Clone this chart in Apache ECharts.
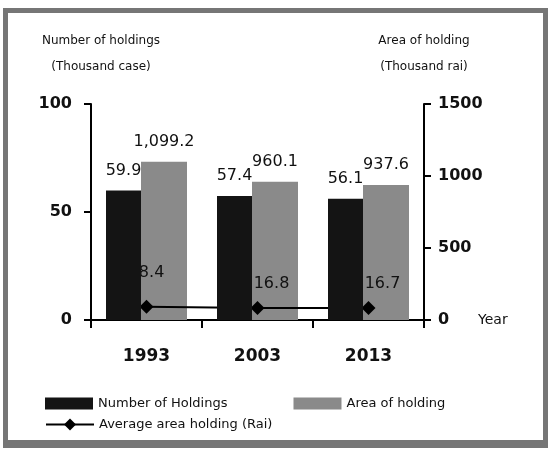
<!DOCTYPE html>
<html>
<head>
<meta charset="utf-8">
<script src="https://cdn.jsdelivr.net/npm/echarts@6/dist/echarts.min.js"></script>
<style>
  html, body { margin: 0; padding: 0; background: #fff; }
  #frame {
    position: absolute; left: 3px; top: 8px;
    width: 535px; height: 427px;
    border: 5px solid #767676;
    border-bottom-width: 8px;
  }
  #chart { position: absolute; left: 0; top: 0; width: 551px; height: 451px; }
</style>
</head>
<body>
<div id="frame"></div>
<div id="chart"></div>
<script>
  // values
  const years = ["1993", "2003", "2013"];
  const holdings = [59.9, 57.4, 56.1];        // thousand case
  const areaHolding = [1099.2, 960.1, 937.6]; // thousand rai
  const avgArea = [18.4, 16.8, 16.7];         // rai

  const font = "DejaVu Sans";
  const chart = echarts.init(document.getElementById("chart"));

  const option = {
    animation: false,
    textStyle: { fontFamily: font, color: "#111" },
    grid: { left: 91, right: 127, top: 104, bottom: 131 },
    legend: [
      {
        data: [
          { name: "Number of Holdings", icon: "rect" },
          { name: "Area of holding", icon: "rect" },
        ],
        left: 40, top: 392,
        itemWidth: 48, itemHeight: 12, itemGap: 66,
        textStyle: { fontFamily: font, fontSize: 13, color: "#111" },
      },
      {
        data: ["Average area holding (Rai)"],
        left: 40, top: 413,
        itemWidth: 48, itemHeight: 15,
        textStyle: { fontFamily: font, fontSize: 13, color: "#111" },
      },
    ],
    xAxis: {
      type: "category",
      data: years,
      name: "Year",
      nameLocation: "end",
      nameGap: 54,
      nameTextStyle: { fontFamily: font, fontSize: 14, color: "#111" },
      axisLine: { lineStyle: { color: "#000", width: 2 } },
      axisTick: { show: true, length: 8, lineStyle: { color: "#000", width: 2 } },
      axisLabel: { fontFamily: font, fontSize: 17, fontWeight: "bold", color: "#111", margin: 28 },
    },
    yAxis: [
      {
        type: "value", min: 0, max: 100, interval: 50,
        name: "Number of holdings\n(Thousand case)",
        nameLocation: "end", nameGap: 24,
        nameTextStyle: { fontFamily: font, fontSize: 12, color: "#111", align: "center", lineHeight: 26, padding: [0, 0, 0, 20] },
        axisLine: { show: true, lineStyle: { color: "#000", width: 2 } },
        axisTick: { show: true, length: 7, lineStyle: { color: "#000", width: 2 } },
        axisLabel: { fontFamily: font, fontSize: 16, fontWeight: "bold", color: "#111", margin: 19 },
        splitLine: { show: false },
      },
      {
        type: "value", min: 0, max: 1500, interval: 500,
        name: "Area of holding\n(Thousand rai)",
        nameLocation: "end", nameGap: 24,
        nameTextStyle: { fontFamily: font, fontSize: 12, color: "#111", align: "center", lineHeight: 26 },
        position: "right",
        axisLine: { show: true, lineStyle: { color: "#000", width: 2 } },
        axisTick: { show: true, length: 7, lineStyle: { color: "#000", width: 2 } },
        axisLabel: {
          fontFamily: font, fontSize: 16, fontWeight: "bold", color: "#111", margin: 14, align: "left",
          formatter: (v) => String(v),
        },
        splitLine: { show: false },
      },
      {
        // hidden scale for the average-area line
        type: "value", min: 0, max: 300, show: false,
      },
    ],
    series: [
      {
        name: "Number of Holdings",
        type: "bar",
        yAxisIndex: 0,
        data: holdings,
        barWidth: 35,
        barGap: "0%",
        z: 4,
        itemStyle: { color: "#141414" },
        label: { show: true, position: "top", distance: 12, fontFamily: font, fontSize: 16, color: "#111" },
      },
      {
        name: "Area of holding",
        type: "bar",
        yAxisIndex: 1,
        data: areaHolding,
        barWidth: 46,
        barGap: "0%",
        z: 2,
        itemStyle: { color: "#8a8a8a" },
        label: {
          show: true, position: "top", distance: 12, fontFamily: font, fontSize: 16, color: "#111",
          formatter: (p) => p.value.toLocaleString("en-US", { minimumFractionDigits: 1 }),
        },
      },
      {
        name: "Average area holding (Rai)",
        type: "line",
        yAxisIndex: 2,
        data: avgArea.map((v, i) => ({ value: v, label: { offset: i === 0 ? [0, -14] : [14, -4] } })),
        z: 3,
        symbol: "diamond",
        symbolSize: 14,
        lineStyle: { color: "#000", width: 2 },
        itemStyle: { color: "#000" },
        label: { show: true, position: "top", fontFamily: font, fontSize: 16, color: "#111" },
      },
    ],
  };

  chart.setOption(option);
</script>
</body>
</html>
